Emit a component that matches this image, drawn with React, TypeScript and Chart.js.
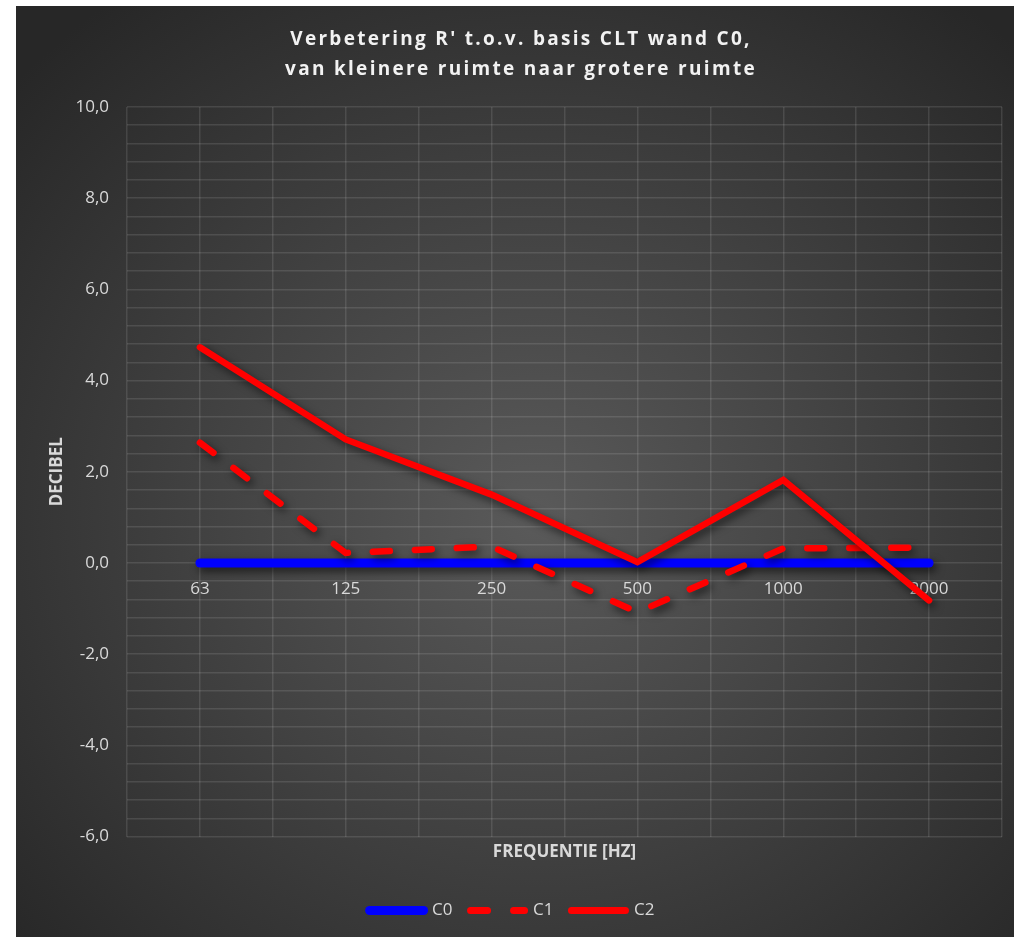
import React, { useEffect, useRef } from "react";
import { Chart, registerables } from "chart.js";

Chart.register(...registerables);

const categories = ["63", "125", "250", "500", "1000", "2000"];
const seriesC0 = [0, 0, 0, 0, 0, 0];
const seriesC1 = [2.64, 0.22, 0.36, -1.08, 0.32, 0.34];
const seriesC2 = [4.73, 2.71, 1.5, 0.02, 1.82, -0.82];
const titleLines = ["Verbetering R' t.o.v. basis CLT wand C0,", "van kleinere ruimte naar grotere ruimte"];
const yTitle = "DECIBEL";
const xTitle = "FREQUENTIE [HZ]";

const FONT = "'Open Sans', sans-serif";
const TEXT = "#d9d9d9";
const GRID = "rgba(255,255,255,0.11)";

const titlePlugin = {
  id: "spacedTitle",
  afterDraw(chart: any) {
    const ctx = chart.ctx;
    ctx.save();
    ctx.fillStyle = "#f2f2f2";
    ctx.font = `bold 19px ${FONT}`;
    (ctx as any).letterSpacing = "2.3px";
    ctx.textAlign = "center";
    ctx.textBaseline = "middle";
    const cx = chart.width / 2 + 6;
    ctx.fillText(titleLines[0], cx, 34);
    ctx.fillText(titleLines[1], cx, 64);
    ctx.restore();
  },
};

const shadowPlugin = {
  id: "lineShadow",
  beforeDatasetDraw(chart: any) {
    const ctx = chart.ctx;
    ctx.save();
    ctx.shadowColor = "rgba(0,0,0,0.6)";
    ctx.shadowBlur = 8;
    ctx.shadowOffsetX = 3;
    ctx.shadowOffsetY = 4;
  },
  afterDatasetDraw(chart: any) {
    chart.ctx.restore();
  },
};

export default function App() {
  const ref = useRef<HTMLCanvasElement>(null);
  useEffect(() => {
    if (!ref.current) return;
    const chart = new Chart(ref.current, {
      type: "line",
      data: {
        labels: categories,
        datasets: [
          {
            label: "C0",
            data: seriesC0,
            borderColor: "#0000ff",
            backgroundColor: "#0000ff",
            borderWidth: 9,
            borderCapStyle: "round",
            pointRadius: 0,
            order: 3,
          },
          {
            label: "C1",
            data: seriesC1,
            borderColor: "#ff0000",
            backgroundColor: "#ff0000",
            borderWidth: 6.5,
            borderDash: [17, 25],
            borderCapStyle: "round",
            pointRadius: 0,
            order: 2,
          },
          {
            label: "C2",
            data: seriesC2,
            borderColor: "#ff0000",
            backgroundColor: "#ff0000",
            borderWidth: 6.5,
            borderCapStyle: "round",
            pointRadius: 0,
            order: 1,
          },
        ],
      },
      options: {
        animation: false,
        responsive: false,
        layout: { padding: { top: 101, left: 6, right: 12, bottom: 8 } },
        plugins: {
          title: { display: false },
          tooltip: { enabled: false },
          legend: {
            position: "bottom",
            labels: {
              usePointStyle: true,
              pointStyle: "line",
              pointStyleWidth: 54,
              color: TEXT,
              font: { family: FONT, size: 17 },
              padding: 18,
              sort: (a: any, b: any) => a.datasetIndex - b.datasetIndex,
              generateLabels: (ch: any) => {
                const items = Chart.defaults.plugins.legend.labels.generateLabels(ch);
                items.forEach((it: any) => {
                  const ds = ch.data.datasets[it.datasetIndex];
                  it.lineDash = ds.borderDash ? [17, 26] : [];
                  it.lineCap = "round";
                  it.lineWidth = it.datasetIndex === 0 ? 9 : 7;
                  it.strokeStyle = ds.borderColor;
                });
                return items;
              },
            },
          },
        },
        scales: {
          x: {
            type: "category",
            offset: true,
            position: { y: 0 } as any,
            grid: { display: false, drawTicks: false },
            border: { display: false },
            ticks: { color: TEXT, font: { family: FONT, size: 17 }, padding: 16 },
          },
          xg: {
            type: "linear",
            position: "bottom",
            min: -0.5,
            max: 5.5,
            grid: { color: GRID, lineWidth: 1.5, drawTicks: false },
            border: { display: false },
            ticks: { display: false, stepSize: 0.5 },
            title: {
              display: true,
              text: xTitle,
              color: TEXT,
              font: { family: FONT, size: 17, weight: "bold" },
              padding: { top: 5, bottom: 22 },
            },
          },
          y: {
            min: -6,
            max: 10,
            grid: { color: GRID, lineWidth: 1.5, drawTicks: false },
            border: { display: false },
            afterFit: (scale: any) => {
              scale.width = 105;
            },
            ticks: {
              stepSize: 0.4,
              autoSkip: false,
              padding: 18,
              color: TEXT,
              font: { family: FONT, size: 17 },
              callback: (v: any) => {
                const n = Number(v);
                return Math.abs(n / 2 - Math.round(n / 2)) < 1e-6 ? n.toFixed(1).replace(".", ",") : "";
              },
            },
            title: {
              display: true,
              text: yTitle,
              color: TEXT,
              font: { family: FONT, size: 17, weight: "bold" },
              padding: { top: 25, bottom: 0 },
            },
          },
        },
      },
      plugins: [titlePlugin, shadowPlugin],
    } as any);
    return () => chart.destroy();
  }, []);

  return (
    <div
      style={{
        position: "absolute",
        left: 16,
        top: 6,
        width: 998,
        height: 931,
        background: "radial-gradient(ellipse 70% 70% at 52% 55%, #5a5a5a 0%, #3e3e3e 55%, #272727 100%)",
      }}
    >
      <canvas ref={ref} width={998} height={931} style={{ display: "block" }} />
    </div>
  );
}
